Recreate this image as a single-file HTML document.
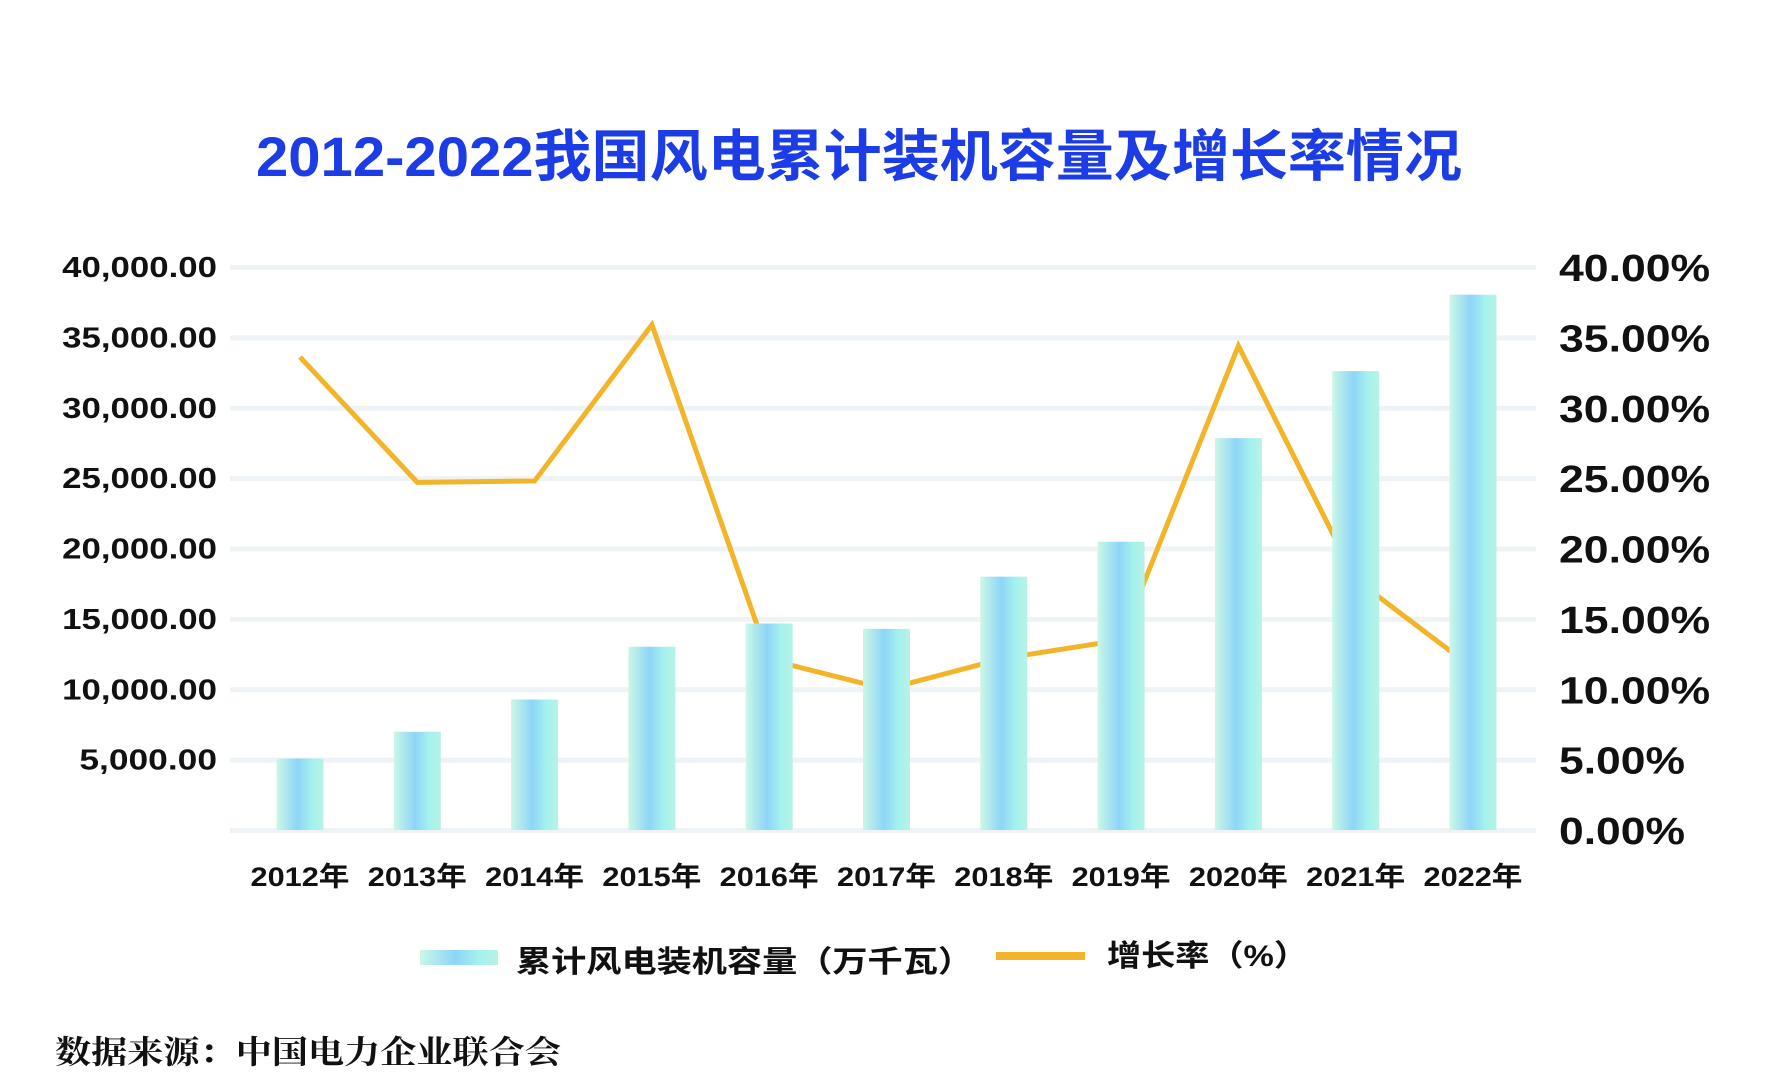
<!DOCTYPE html>
<html><head><meta charset="utf-8"><style>
html,body{margin:0;padding:0;background:#fff;}
svg{display:block;}
text{font-family:"Liberation Sans","Noto Sans CJK SC",sans-serif;}
</style></head><body>
<svg id="chart" width="1772" height="1089" viewBox="0 0 1772 1089" xmlns="http://www.w3.org/2000/svg">
<defs>
<linearGradient id="barGrad" x1="0" x2="1" y1="0" y2="0">
<stop offset="0" stop-color="#cbf7e6"/>
<stop offset="0.45" stop-color="#8ed5f7"/>
<stop offset="0.75" stop-color="#a4f1ee"/>
<stop offset="1" stop-color="#b8f2e6"/>
</linearGradient>
</defs>
<text x="256" y="176" font-size="56" font-weight="bold" fill="#1c3ce6" textLength="1206" lengthAdjust="spacingAndGlyphs">2012-2022我国风电累计装机容量及增长率情况</text>
<g id="grid"></g>
<g id="lineg"></g>
<g id="bars"></g>
<g id="labels"></g>
<rect x="420" y="950" width="78" height="15" fill="url(#barGrad)"/>
<text x="516" y="972" font-size="30" font-weight="bold" fill="#111" textLength="457" lengthAdjust="spacingAndGlyphs">累计风电装机容量（万千瓦）</text>
<rect x="996" y="952" width="89" height="8" fill="#f2b52a"/>
<text x="1107" y="966" font-size="30" font-weight="bold" fill="#111" textLength="201" lengthAdjust="spacingAndGlyphs">增长率（%）</text>
<text x="55" y="1063" font-size="32" font-weight="bold" fill="#111" style="font-family:'Liberation Serif','Noto Serif CJK SC',serif" textLength="506" lengthAdjust="spacingAndGlyphs">数据来源：中国电力企业联合会</text>
</svg>
<script>
const years = ["2012年","2013年","2014年","2015年","2016年","2017年","2018年","2019年","2020年","2021年","2022年"];
const capacity = [5080,6980,9270,13020,14670,14290,18000,20480,27840,32600,38030];
const growth = [33.6,24.7,24.8,35.9,12.1,10.0,12.2,13.5,34.4,17.8,11.5];
const leftTicks = [5000,10000,15000,20000,25000,30000,35000,40000];
const leftTickLabels = ["5,000.00","10,000.00","15,000.00","20,000.00","25,000.00","30,000.00","35,000.00","40,000.00"];
const rightTicks = [0,5,10,15,20,25,30,35,40];
const rightTickLabels = ["0.00%","5.00%","10.00%","15.00%","20.00%","25.00%","30.00%","35.00%","40.00%"];

const NS="http://www.w3.org/2000/svg";
const y0=830, yTop=267;
function yL(v){return y0-(v/40000)*(y0-yTop);}
function yR(p){return y0-(p/40)*(y0-yTop);}
function xC(i){return 300+i*117.3;}
function mk(tag,attrs,parent){const e=document.createElementNS(NS,tag);for(const k in attrs)e.setAttribute(k,attrs[k]);parent.appendChild(e);return e;}
const grid=document.getElementById('grid'),lineg=document.getElementById('lineg'),bars=document.getElementById('bars'),labels=document.getElementById('labels');

[0].concat(leftTicks).forEach(v=>{
  const l=mk('rect',{x:230,y:yL(v)-2,width:1306,height:5,fill:'#eef3f6'},grid);
  
  
});
leftTicks.forEach((v,i)=>{
  const t=mk('text',{x:217,y:yL(v)+10,'text-anchor':'end','font-size':29,'font-weight':'bold',fill:'#111',textLength:leftTickLabels[i].length*17.2,lengthAdjust:'spacingAndGlyphs'},labels);
  t.textContent=leftTickLabels[i];
  
  
});
rightTicks.forEach((v,i)=>{
  const t=mk('text',{x:1559,y:yR(v)+14,'font-size':38,'font-weight':'bold',fill:'#111',textLength:rightTickLabels[i].length*25.2,lengthAdjust:'spacingAndGlyphs'},labels);
  t.textContent=rightTickLabels[i];
  
  
});
const pts=growth.map((g,i)=>xC(i)+','+yR(g)).join(' ');
const pl=mk('polyline',{points:pts,fill:'none',stroke:'#f2b52a','stroke-width':5,'stroke-linejoin':'miter'},lineg);


capacity.forEach((v,i)=>{
  const b=mk('rect',{x:xC(i)-23.5,y:yL(v),width:47,height:y0-yL(v),fill:'url(#barGrad)'},bars);
  
  
  const t=mk('text',{x:xC(i),y:886,'text-anchor':'middle','font-size':27,'font-weight':'bold',fill:'#111',textLength:99,lengthAdjust:'spacingAndGlyphs'},labels);
  t.textContent=years[i];
  
  
});
</script>
</body></html>
